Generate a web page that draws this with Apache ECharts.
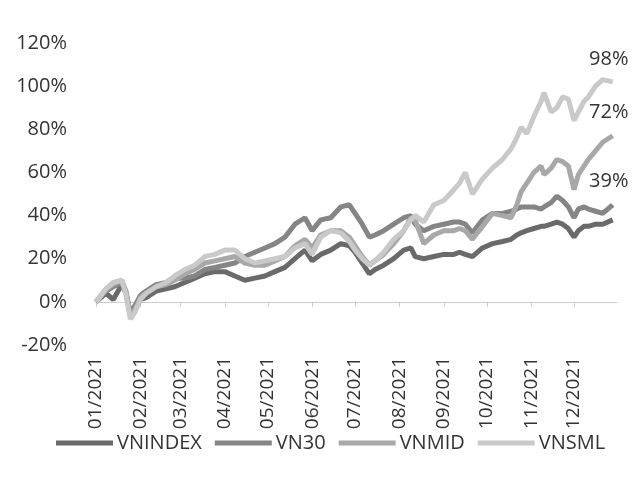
<!DOCTYPE html>
<html>
<head>
<meta charset="utf-8">
<script src="https://cdn.jsdelivr.net/npm/echarts@6/dist/echarts.min.js"></script>
<style>html,body{margin:0;padding:0;background:#fff}#c{width:635px;height:479px}</style>
</head>
<body>
<div id="c"></div>
<script>
const dates = ['2021-01-01','2021-01-08','2021-01-13','2021-01-19','2021-01-22','2021-01-25','2021-01-28','2021-02-01','2021-02-05','2021-02-12','2021-02-19','2021-02-25','2021-03-04','2021-03-11','2021-03-18','2021-03-25','2021-04-01','2021-04-08','2021-04-15','2021-04-22','2021-04-29','2021-05-06','2021-05-13','2021-05-20','2021-05-27','2021-06-01','2021-06-07','2021-06-14','2021-06-21','2021-06-27','2021-07-01','2021-07-06','2021-07-11','2021-07-15','2021-07-21','2021-07-28','2021-08-04','2021-08-09','2021-08-12','2021-08-18','2021-08-25','2021-09-01','2021-09-08','2021-09-12','2021-09-16','2021-09-21','2021-09-28','2021-10-05','2021-10-12','2021-10-18','2021-10-22','2021-10-25','2021-10-29','2021-11-03','2021-11-08','2021-11-10','2021-11-15','2021-11-19','2021-11-23','2021-11-27','2021-12-01','2021-12-04','2021-12-08','2021-12-11','2021-12-16','2021-12-21','2021-12-28'];
const vnindex = [0,4,1,8,4,-6,-4,1,2,5,6,7,9,11,13,14,14,12,10,11,12,14,16,20,24,19,22,24,27,26,23,18,13,15,17,20,24,25,21,20,21,22,22,23,22,21,25,27,28,29,31,32,33,34,35,35,36,37,36,34,30,33,35,35,36,36,38];
const vn30 = [0,5,7,9,4,-5,-2,3,5,8,9,11,11,12,15,16,17,18,21,23,25,27,30,36,39,33,38,39,44,45,41,36,30,31,33,36,39,40,36,33,35,36,37,37,36,32,38,41,41,42,43,44,44,44,43,44,46,49,47,44,39,43,44,43,42,41,45];
const vnmid = [0,6,8,10,5,-7,-4,2,4,7,8,10,13,15,18,19,20,21,18,17,17,19,21,26,29,25,31,33,33,30,26,21,17,19,22,27,33,39,38,27,31,33,33,34,33,29,35,41,40,39,45,51,55,60,63,59,62,66,65,63,52,59,63,66,70,74,77];
const vnsml = [0,6,9,10,3,-8,-5,1,4,7,9,12,15,17,21,22,24,24,20,18,19,20,21,25,27,22,30,33,32,28,24,20,17,19,23,29,33,38,40,37,45,47,52,55,60,50,57,62,66,71,76,81,78,86,93,97,88,90,95,94,84,88,93,95,100,103,102];
const seriesNames = ['VNINDEX','VN30','VNMID','VNSML'];
const endLabelText = ['', '39%', '72%', '98%'];
const yTicks = [-20, 0, 20, 40, 60, 80, 100, 120];

const values = [vnindex, vn30, vnmid, vnsml];
const colors = ['#6a6a6a', '#858585', '#a8a8a8', '#c9c9c9'];
const font = '"Open Sans", sans-serif';
const chart = echarts.init(document.getElementById('c'), null, {renderer: 'canvas'});
const DAY = 24 * 3600 * 1000;
chart.setOption({
  animation: false,
  backgroundColor: '#ffffff',
  grid: {left: 96, right: 18, top: 43, bottom: 134, containLabel: false},
  legend: {
    data: seriesNames,
    left: 51, top: 428,
    icon: 'rect', itemWidth: 57, itemHeight: 5, itemGap: 13,
    textStyle: {fontFamily: font, fontSize: 20, color: '#333', padding: [0,0,0,-1]}
  },
  xAxis: {
    type: 'time',
    min: '2021-01-01', max: '2021-12-31',
    splitNumber: 12, minInterval: 28 * DAY, maxInterval: 31 * DAY,
    axisLine: {onZero: true, lineStyle: {color: '#cccccc', width: 1}},
    axisTick: {show: true, length: 5, lineStyle: {color: '#cccccc'}},
    splitLine: {show: false},
    axisLabel: {
      rotate: 90, margin: 12, fontFamily: font, fontSize: 19, color: '#333',
      formatter: function (v) {
        const d = new Date(v);
        const m = d.getMonth() + 1;
        return (m < 10 ? '0' + m : m) + '/' + d.getFullYear();
      }
    }
  },
  yAxis: {
    type: 'value', min: yTicks[0], max: yTicks[yTicks.length - 1], interval: 20,
    axisLine: {show: false}, axisTick: {show: false}, splitLine: {show: false},
    axisLabel: {margin: 29, fontFamily: font, fontSize: 20, color: '#333', formatter: '{value}%'}
  },
  series: seriesNames.map(function (name, i) {
    return {
      name: name, type: 'line', showSymbol: false, symbol: 'none',
      data: dates.map(function (d, k) { return [d, values[i][k]]; }),
      lineStyle: {width: 5, color: colors[i]},
      itemStyle: {color: colors[i]},
      endLabel: {
        show: endLabelText[i] !== '',
        formatter: endLabelText[i],
        fontFamily: font, fontSize: 20, color: '#333',
        align: 'center', verticalAlign: 'middle', distance: 0, offset: [-4, -23]
      }
    };
  })
});
</script>
</body>
</html>
